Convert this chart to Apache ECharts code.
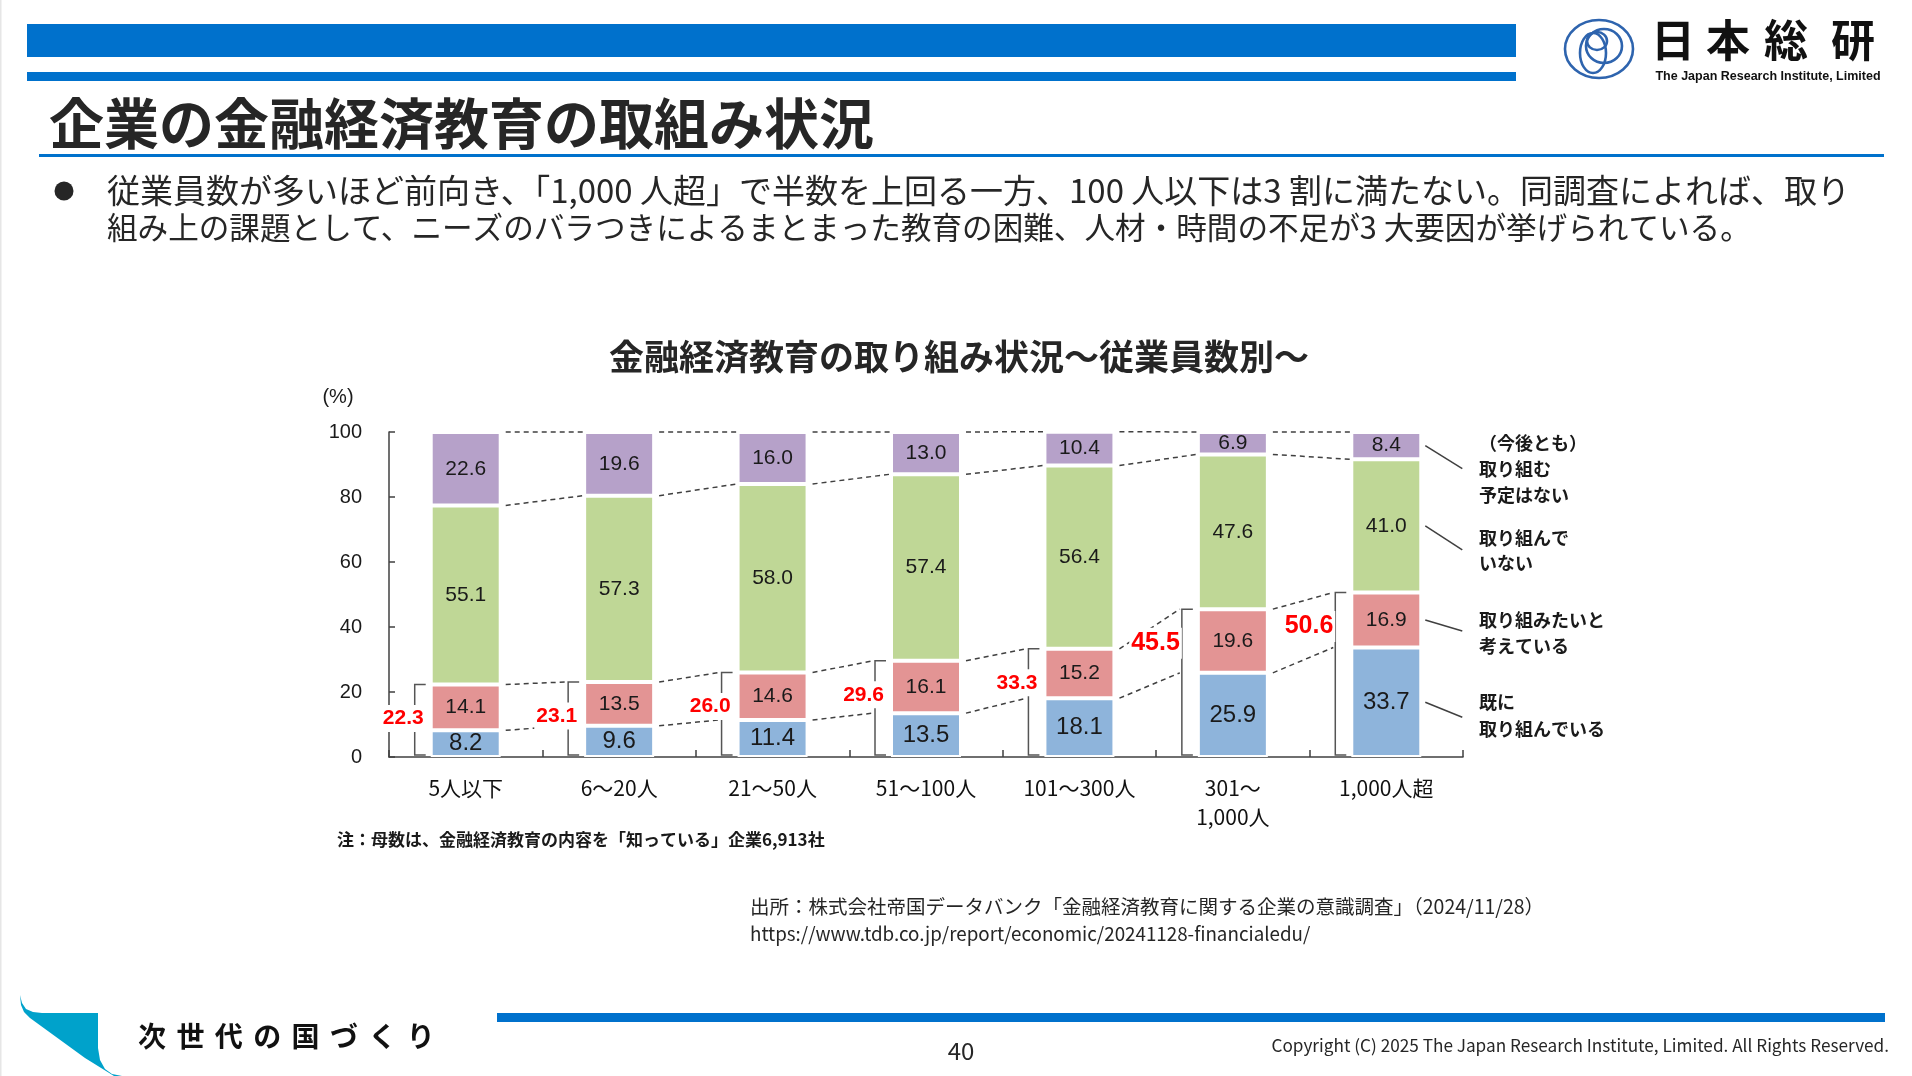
<!DOCTYPE html>
<html>
<head>
<meta charset="utf-8">
<script src="https://cdn.jsdelivr.net/npm/echarts@6/dist/echarts.min.js"></script>
<style>html,body{margin:0;padding:0;background:#fff}#c{width:1912px;height:1076px}</style>
</head>
<body>
<div id="c"></div>
<script>
// ---- data ----
const categories = ['5人以下', '6～20人', '21～50人', '51～100人', '101～300人', '301～\n1,000人', '1,000人超'];
const already   = [8.2, 9.6, 11.4, 13.5, 18.1, 25.9, 33.7];   // 既に取り組んでいる
const wantTo    = [14.1, 13.5, 14.6, 16.1, 15.2, 19.6, 16.9]; // 取り組みたいと考えている
const notDoing  = [55.1, 57.3, 58.0, 57.4, 56.4, 47.6, 41.0]; // 取り組んでいない
const noPlan    = [22.6, 19.6, 16.0, 13.0, 10.4, 6.9, 8.4];   // （今後とも）取り組む予定はない
const totals    = [22.3, 23.1, 26.0, 29.6, 33.3, 45.5, 50.6]; // 既に＋取り組みたい
const yTicks    = [0, 20, 40, 60, 80, 100];
const seriesNames = ['既に取り組んでいる', '取り組みたいと考えている', '取り組んでいない', '（今後とも）取り組む予定はない'];
const legendLines = [['既に', '取り組んでいる'], ['取り組みたいと', '考えている'], ['取り組んで', 'いない'], ['（今後とも）', '取り組む', '予定はない']];

// ---- styles ----
const segColors = ['#8EB4DB', '#E39494', '#BFD796', '#B6A1C9'];
const segLabelSize = [24, 21, 21, 21];
const totalLabelSize = [21, 21, 21, 21, 21, 25, 25];
const legendY = [[702, 729], [620, 646], [538, 563], [443, 469, 495]];
const leaderDy = [15, 11, 24, 23];
const LINE = '#404040';
const JP = '"Noto Sans CJK JP", "Noto Sans", sans-serif';
const LAT = '"Liberation Sans", Arial, sans-serif';

const n = categories.length;
const cum1 = already.map(v => v);
const cum2 = already.map((v, i) => v + wantTo[i]);
const cum3 = cum2.map((v, i) => v + notDoing[i]);
const cum4 = cum3.map((v, i) => v + noPlan[i]);

function renderOverlay(params, api) {
  const i = api.value(0);
  const half = 34;
  const cx = api.coord([i, 0])[0];
  const y0 = api.coord([i, 0])[1];
  const yv = (k, v) => api.coord([k, v])[1];
  const left = cx - half, right = cx + half;
  const children = [];
  // bracket
  const bx = left - 17;
  const yt = yv(i, totals[i]);
  children.push({
    type: 'polyline',
    shape: { points: [[bx + 11, yt], [bx, yt], [bx, y0 - 2], [bx + 11, y0 - 2]] },
    style: { stroke: '#555', lineWidth: 1.5, fill: 'none' }
  });
  const sz = totalLabelSize[i];
  children.push({
    type: 'text',
    z2: 10,
    style: {
      text: totals[i].toFixed(1), x: left - (sz >= 24 ? 17 : 6), y: yt + 34,
      fill: '#FF0000', font: 'bold ' + sz + 'px ' + LAT,
      textAlign: 'right', textVerticalAlign: 'middle',
      backgroundColor: '#fff', padding: [3, 2]
    }
  });
  // dashed connectors
  if (i < n - 1) {
    const nl = api.coord([i + 1, 0])[0] - half;
    const levels = [[cum1, true], [cum2, true], [cum3, false], [cum4, false]];
    levels.forEach(function (lv) {
      const arr = lv[0], toBracket = lv[1];
      children.push({
        type: 'line',
        shape: { x1: right + 6, y1: yv(i, arr[i]), x2: toBracket ? nl - 19 : nl - 2, y2: yv(i + 1, arr[i + 1]) },
        style: { stroke: LINE, lineWidth: 1.5, lineDash: [5, 4] }
      });
    });
  } else {
    const mids = [already[i] / 2, cum1[i] + wantTo[i] / 2, cum2[i] + notDoing[i] / 2, cum3[i] + noPlan[i] / 2];
    mids.forEach(function (m, k) {
      const ys = yv(i, m);
      children.push({
        type: 'line',
        shape: { x1: right + 5, y1: ys, x2: right + 42, y2: ys + leaderDy[k] },
        style: { stroke: LINE, lineWidth: 1.5 }
      });
    });
  }
  return { type: 'group', children: children };
}

function txt(x, y, text, font, opts) {
  return {
    type: 'text', x: x, y: y, silent: true, z: 100,
    style: Object.assign({ text: text, font: font, fill: '#262626', textAlign: 'left', textVerticalAlign: 'middle' }, opts || {})
  };
}
function rect(x, y, w, h, color) {
  return { type: 'rect', silent: true, z: 100, shape: { x: x, y: y, width: w, height: h }, style: { fill: color } };
}

const graphics = [];
graphics.push(rect(0, 0, 1.5, 1076, '#e6e6e6'));
// header bars
graphics.push(rect(27, 24, 1489, 33, '#0071CC'));
graphics.push(rect(27, 72, 1489, 9, '#0071CC'));
// logo rings
const ringStyle = { stroke: '#2E64AE', lineWidth: 2.6, fill: 'none' };
[[1599, 49, 34, 29], [1604, 46, 18, 17], [1597, 41, 10, 9], [1593, 53, 13, 20]].forEach(function (e) {
  graphics.push({ type: 'ellipse', silent: true, z: 100, shape: { cx: e[0], cy: e[1], rx: e[2], ry: e[3] }, style: ringStyle });
});
['日', '本', '総', '研'].forEach(function (ch, k) {
  graphics.push(txt([1673, 1728, 1786, 1853][k], 40, ch, 'bold 44px ' + JP, { fill: '#111', textAlign: 'center' }));
});
graphics.push(txt(1768, 77, 'The Japan Research Institute, Limited', 'bold 12.5px ' + LAT, { fill: '#111', textAlign: 'center' }));
// title
graphics.push(txt(49, 123, '企業の金融経済教育の取組み状況', 'bold 55px ' + JP));
graphics.push(rect(39, 154, 1845, 3, '#0071CC'));
// bullet text
graphics.push({ type: 'circle', silent: true, z: 100, shape: { cx: 64, cy: 191, r: 9.5 }, style: { fill: '#262626' } });
graphics.push(txt(107, 190, '従業員数が多いほど前向き、「1,000 人超」で半数を上回る一方、100 人以下は3 割に満たない。同調査によれば、取り', '33px ' + JP));
graphics.push(txt(107, 227, '組み上の課題として、ニーズのバラつきによるまとまった教育の困難、人材・時間の不足が3 大要因が挙げられている。', '30.6px ' + JP));
// chart title
graphics.push(txt(959, 357, '金融経済教育の取り組み状況～従業員数別～', 'bold 35px ' + JP, { textAlign: 'center' }));
graphics.push(txt(338, 397, '(%)', '20px ' + LAT, { textAlign: 'center', fill: '#1a1a1a' }));
// legend texts
legendLines.forEach(function (lines, k) {
  lines.forEach(function (s, j) { graphics.push(txt(1479, legendY[k][j], s, 'bold 18px ' + JP, { fill: '#1a1a1a' })); });
});
// notes
graphics.push(txt(337, 840, '注：母数は、金融経済教育の内容を「知っている」企業6,913社', 'bold 17px ' + JP, { fill: '#1a1a1a' }));
graphics.push(txt(750, 907, '出所：株式会社帝国データバンク「金融経済教育に関する企業の意識調査」（2024/11/28）', '19.5px ' + JP));
graphics.push(txt(750, 934, 'https://www.tdb.co.jp/report/economic/20241128-financialedu/', '18.8px ' + JP));
// footer
graphics.push({
  type: 'polygon', silent: true, z: 100,
  shape: { points: [[20, 995], [22, 1003], [26, 1009], [33, 1012], [42, 1013], [98, 1013], [98, 1048], [100, 1060], [105, 1069], [112, 1074], [122, 1076], [114, 1076], [85, 1058], [30, 1018], [24, 1012], [21, 1005]] },
  style: { fill: '#00A2CB' }
});
'次世代の国づくり'.split('').forEach(function (ch, k) {
  graphics.push(txt(152 + 38.4 * k, 1036, ch, 'bold 28px ' + JP, { fill: '#111', textAlign: 'center' }));
});
graphics.push(rect(497, 1013, 1388, 9, '#0071CC'));
graphics.push(txt(961, 1051, '40', '24px ' + JP, { textAlign: 'center' }));
graphics.push(txt(1889, 1045, 'Copyright (C) 2025 The Japan Research Institute, Limited. All Rights Reserved.', '17.2px ' + JP, { textAlign: 'right' }));

const barSeries = [already, wantTo, notDoing, noPlan].map(function (d, k) {
  return {
    type: 'bar', name: seriesNames[k], stack: 'total', data: d, barWidth: 70,
    itemStyle: { color: segColors[k], borderColor: '#fff', borderWidth: 2 },
    label: {
      show: true, position: 'inside', color: '#1a1a1a', fontSize: segLabelSize[k], fontFamily: LAT,
      formatter: function (p) { return Number(p.value).toFixed(1); }
    },
    emphasis: { disabled: true }, silent: true
  };
});

const option = {
  animation: false,
  backgroundColor: '#fff',
  textStyle: { fontFamily: JP },
  grid: { left: 389, top: 432, width: 1074, height: 325, containLabel: false, outerBoundsMode: 'none' },
  xAxis: {
    type: 'category', data: categories, boundaryGap: true,
    axisLine: { lineStyle: { color: LINE, width: 1.5 } },
    axisTick: { show: true, inside: true, length: 7, interval: 0, lineStyle: { color: LINE, width: 1.5 } },
    axisLabel: { interval: 0, margin: 17, fontSize: 21, lineHeight: 29, color: '#111', fontFamily: JP }
  },
  yAxis: {
    type: 'value', min: yTicks[0], max: yTicks[yTicks.length - 1], interval: yTicks[1] - yTicks[0],
    axisLine: { show: true, lineStyle: { color: LINE, width: 1.5 } },
    axisTick: { show: true, inside: true, length: 6, lineStyle: { color: LINE, width: 1.5 } },
    splitLine: { show: false },
    axisLabel: { margin: 27, fontSize: 20, color: '#1a1a1a', fontFamily: LAT }
  },
  series: barSeries.concat([{
    type: 'custom', renderItem: renderOverlay, clip: false, silent: true, z: 5,
    data: categories.map(function (c, i) { return [i, totals[i]]; }),
    encode: { x: 0, y: 1 }
  }]),
  graphic: { elements: graphics }
};

const chart = echarts.init(document.getElementById('c'), null, { renderer: 'canvas' });
chart.setOption(option);
</script>
</body>
</html>
